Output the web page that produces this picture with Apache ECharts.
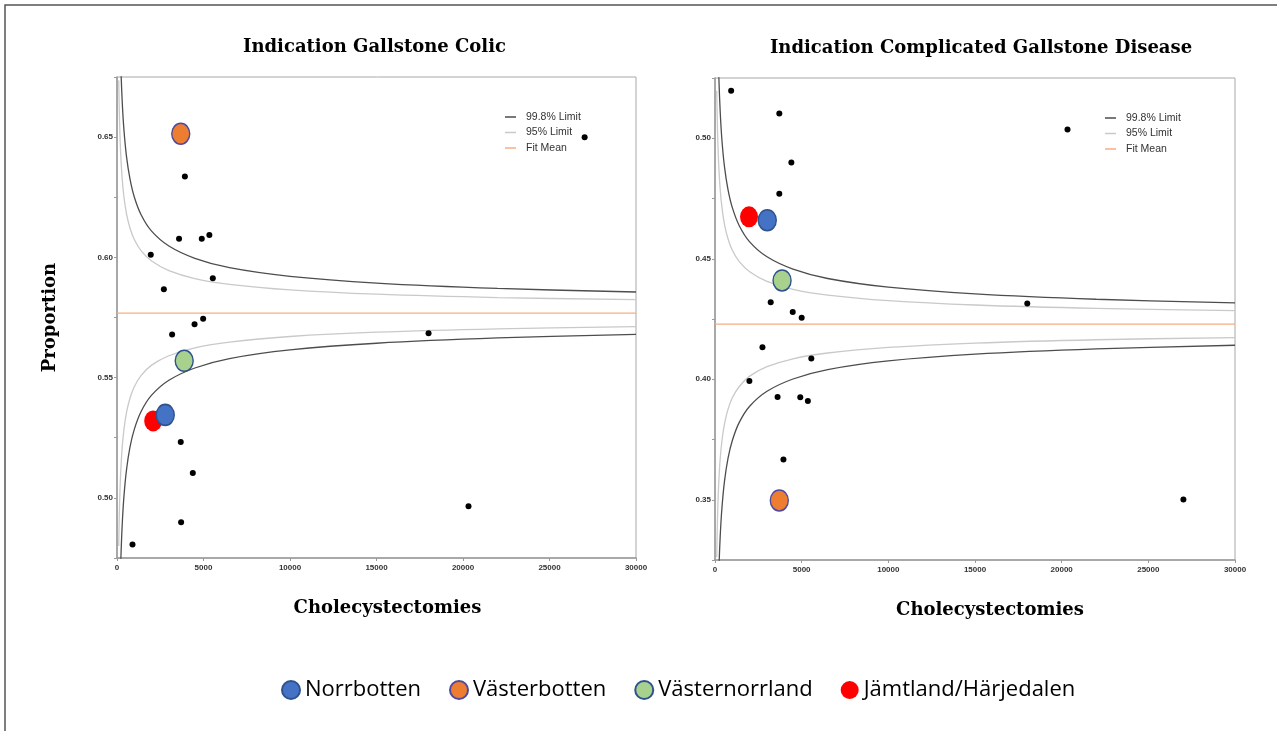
<!DOCTYPE html>
<html><head><meta charset="utf-8">
<script src="https://cdn.jsdelivr.net/npm/echarts@6/dist/echarts.min.js"></script>
<style>html,body{margin:0;padding:0;background:#fff}#c{width:1277px;height:731px}</style>
</head><body><div id="c"></div>
<script>
// ---- data ----
const xTicks = [0, 5000, 10000, 15000, 20000, 25000, 30000];
const limitN = [100,130,170,220,300,400,550,750,1000,1400,2000,3000,4500,6500,10000,15000,22000,30000];

// Indication Gallstone Colic
const colicMean = 0.5768;
const colicU998 = [0.7295,0.7107,0.6939,0.6797,0.6650,0.6531,0.6419,0.6326,0.6251,0.6176,0.6109,0.6047,0.5996,0.5957,0.5921,0.5893,0.5871,0.5856];
const colicL998 = [0.4241,0.4429,0.4597,0.4739,0.4887,0.5005,0.5117,0.5211,0.5285,0.5360,0.5427,0.5489,0.5540,0.5579,0.5615,0.5643,0.5665,0.5680];
const colicU95  = [0.6736,0.6617,0.6511,0.6421,0.6327,0.6252,0.6181,0.6122,0.6074,0.6027,0.5985,0.5945,0.5912,0.5888,0.5865,0.5847,0.5833,0.5824];
const colicL95  = [0.4800,0.4919,0.5025,0.5115,0.5209,0.5284,0.5355,0.5414,0.5462,0.5509,0.5552,0.5591,0.5624,0.5648,0.5671,0.5689,0.5703,0.5712];
const colicOtherN = [3924,3586,4900,5339,1952,5538,2709,27031,3187,4482,4980,18008,3685,4382,20318,3705,896];
const colicOtherP = [0.6336,0.6077,0.6077,0.6093,0.6011,0.5913,0.5867,0.6500,0.5679,0.5722,0.5745,0.5685,0.5232,0.5103,0.4965,0.4899,0.4806];

// Indication Complicated Gallstone Disease
const compMean = 0.4229;
const compU998 = [0.5756,0.5568,0.5400,0.5258,0.5111,0.4992,0.4880,0.4787,0.4712,0.4637,0.4570,0.4508,0.4457,0.4418,0.4382,0.4354,0.4332,0.4317];
const compL998 = [0.2702,0.2890,0.3058,0.3200,0.3348,0.3466,0.3578,0.3672,0.3746,0.3821,0.3888,0.3950,0.4001,0.4040,0.4076,0.4104,0.4126,0.4141];
const compU95  = [0.5197,0.5078,0.4972,0.4882,0.4788,0.4713,0.4642,0.4583,0.4535,0.4488,0.4446,0.4406,0.4373,0.4349,0.4326,0.4308,0.4294,0.4285];
const compL95  = [0.3261,0.3380,0.3486,0.3576,0.3670,0.3745,0.3816,0.3875,0.3923,0.3970,0.4013,0.4052,0.4085,0.4109,0.4132,0.4150,0.4164,0.4173];
const compOtherN = [932,3710,20337,4405,3710,3214,4484,5000,18016,2738,5556,1984,3611,4920,5357,3948,27023];
const compOtherP = [0.5197,0.5103,0.5036,0.4899,0.4770,0.4320,0.4279,0.4255,0.4314,0.4133,0.4086,0.3993,0.3926,0.3925,0.3910,0.3667,0.3501];

// highlighted regions
const regionNames = ['Norrbotten','Västerbotten','Västernorrland','Jämtland/Härjedalen'];
const colicRegionN = [2789, 3685, 3884, 2092];
const colicRegionP = [0.5345, 0.6514, 0.5570, 0.5320];
const compRegionN  = [3016, 3710, 3869, 1964];
const compRegionP  = [0.4660, 0.3497, 0.4410, 0.4674];
const regionColors = ['#4472c4','#ed7d31','#a9d18e','#ff0000'];
const regionBorders = ['#2f528f','#4f4a9e','#2f528f','#ff0000'];

const limitNames = ['99.8% Limit','95% Limit','Fit Mean'];

// ---- build ----
const pairs = (xs, ys) => xs.map((x, i) => [x, ys[i]]);
const C998 = '#4d4d4d', C95 = '#c9c9c9', CMEAN = '#f6ad80';

function limitSeries(idx, arr, name, color) {
  return {
    type: 'line', name, xAxisIndex: idx, yAxisIndex: idx,
    data: pairs(limitN, arr), smooth: 0.35,
    symbol: 'none', silent: true, clip: true,
    lineStyle: { color, width: 1.3 }, itemStyle: { color }, z: 2
  };
}
function meanSeries(idx, m) {
  return {
    type: 'line', name: 'Fit Mean', xAxisIndex: idx, yAxisIndex: idx,
    data: [[xTicks[0], m], [xTicks[xTicks.length - 1], m]],
    symbol: 'none', silent: true,
    lineStyle: { color: CMEAN, width: 1.2 }, itemStyle: { color: CMEAN }, z: 2
  };
}
function otherSeries(idx, xs, ys) {
  return {
    type: 'scatter', name: 'other', xAxisIndex: idx, yAxisIndex: idx,
    data: pairs(xs, ys), symbolSize: 6, itemStyle: { color: '#000', opacity: 1 }, z: 3, silent: true
  };
}
function regionSeries(idx, xs, ys) {
  const out = [];
  [3, 0, 1, 2].forEach(i => {
    out.push({
      type: 'scatter', name: regionNames[i], xAxisIndex: idx, yAxisIndex: idx,
      data: [[xs[i], ys[i]]], symbol: 'circle', symbolSize: [18, 21],
      itemStyle: { color: regionColors[i], borderColor: regionBorders[i], borderWidth: i === 3 ? 0 : 1.5, opacity: 1 },
      z: 4, silent: true
    });
  });
  return out;
}

const tickLabelFmt = v => (Math.round(v * 1000) % 50 === 0) ? v.toFixed(2) : '';
const axisCommon = {
  axisLine: { show: true, onZero: false, lineStyle: { color: '#9a9a9a', width: 1.5 } },
  axisTick: { show: true, length: 3, lineStyle: { color: '#9a9a9a' } },
  splitLine: { show: false }
};
const nameStyle = { fontFamily: 'DejaVu Serif', fontWeight: 'bold', fontSize: 18, color: '#000' };
function xAxis(idx, padLeft) {
  return Object.assign({}, axisCommon, {
    type: 'value', gridIndex: idx, min: xTicks[0], max: xTicks[xTicks.length - 1], interval: 5000,
    axisLabel: { fontSize: 8, fontWeight: 'bold', color: '#333', margin: 6, fontFamily: 'Liberation Sans', formatter: v => String(v) },
    name: 'Cholecystectomies', nameLocation: 'middle', nameGap: 41,
    nameTextStyle: Object.assign({}, nameStyle, { padding: [0, 0, 0, padLeft] })
  });
}
function yAxis(idx, min, max, withName) {
  const a = Object.assign({}, axisCommon, {
    type: 'value', gridIndex: idx, min, max, interval: 0.025,
    axisLabel: { fontSize: 8, fontWeight: 'bold', color: '#333', margin: 4, fontFamily: 'Liberation Sans', formatter: tickLabelFmt }
  });
  if (withName) {
    a.name = 'Proportion'; a.nameLocation = 'middle'; a.nameGap = 58; a.nameRotate = 90;
    a.nameTextStyle = Object.assign({}, nameStyle);
  }
  return a;
}

const series = [
  meanSeries(0, colicMean),
  limitSeries(0, colicU95, '95% Limit', C95), limitSeries(0, colicL95, '95% Limit', C95),
  limitSeries(0, colicU998, '99.8% Limit', C998), limitSeries(0, colicL998, '99.8% Limit', C998),
  otherSeries(0, colicOtherN, colicOtherP),
  ...regionSeries(0, colicRegionN, colicRegionP),
  meanSeries(1, compMean),
  limitSeries(1, compU95, '95% Limit', C95), limitSeries(1, compL95, '95% Limit', C95),
  limitSeries(1, compU998, '99.8% Limit', C998), limitSeries(1, compL998, '99.8% Limit', C998),
  otherSeries(1, compOtherN, compOtherP),
  ...regionSeries(1, compRegionN, compRegionP)
];

function limitLegend(left, top) {
  return {
    data: limitNames, orient: 'vertical', left, top, icon: 'rect',
    itemWidth: 11, itemHeight: 1.5, itemGap: 3.5, selectedMode: false,
    textStyle: { fontSize: 10.5, color: '#333', fontFamily: 'Liberation Sans', lineHeight: 12, padding: [0, 0, 0, 5] }
  };
}

const chart = echarts.init(document.getElementById('c'), null, { renderer: 'canvas' });
chart.setOption({
  animation: false,
  backgroundColor: '#fff',
  grid: [
    { left: 117, top: 77, width: 519, height: 481, show: true, borderColor: '#a8a8a8', borderWidth: 1, backgroundColor: 'transparent' },
    { left: 715, top: 78, width: 520, height: 482, show: true, borderColor: '#a8a8a8', borderWidth: 1, backgroundColor: 'transparent' }
  ],
  xAxis: [xAxis(0, 22), xAxis(1, 30)],
  yAxis: [yAxis(0, 0.475, 0.675, true), yAxis(1, 0.325, 0.525, false)],
  legend: [
    limitLegend(500, 106),
    limitLegend(1100, 107),
    {
      data: regionNames, orient: 'horizontal', left: 276, top: 674,
      itemWidth: 18, itemHeight: 21, itemGap: 28, selectedMode: false, icon: 'circle',
      textStyle: { fontFamily: 'Open Sans', fontSize: 22, color: '#000' }
    }
  ],
  graphic: [
    { type: 'rect', shape: { x: 5, y: 5, width: 1300, height: 760 }, style: { fill: 'none', stroke: '#555', lineWidth: 1.5 }, silent: true },
    { type: 'text', x: 374.5, y: 47.5, style: { text: 'Indication Gallstone Colic', font: 'bold 18px "DejaVu Serif"', fill: '#000', textAlign: 'center', textVerticalAlign: 'middle' } },
    { type: 'text', x: 981, y: 48, style: { text: 'Indication Complicated Gallstone Disease', font: 'bold 18px "DejaVu Serif"', fill: '#000', textAlign: 'center', textVerticalAlign: 'middle' } }
  ],
  series
});
</script>
</body></html>
